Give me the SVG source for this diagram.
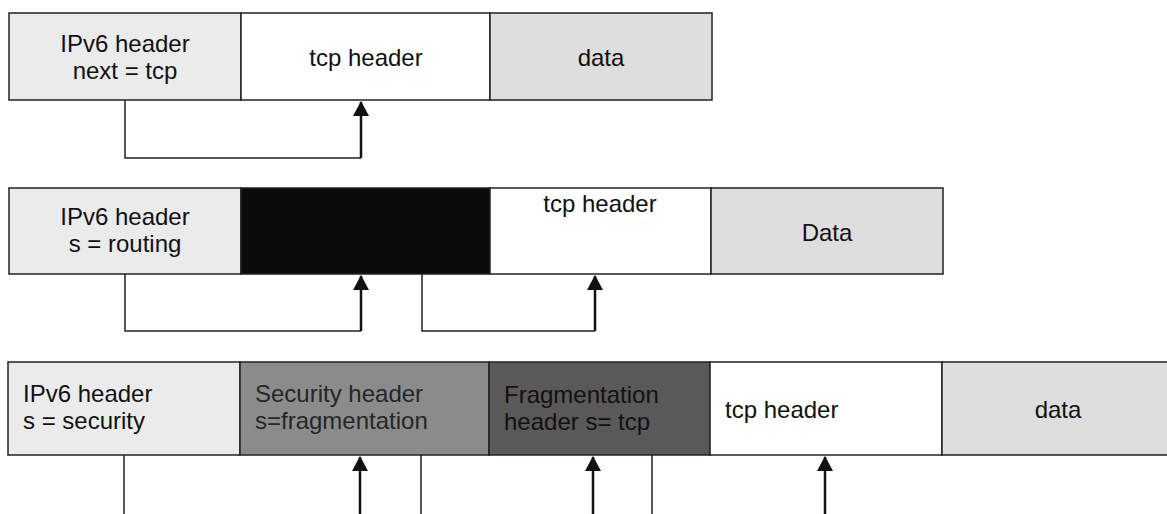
<svg xmlns="http://www.w3.org/2000/svg" width="1167" height="514" viewBox="0 0 1167 514">
  <style>
    .cell { stroke: #222; stroke-width: 1.5; }
    .ipv6 { fill: #ebebeb; }
    .tcp { fill: #ffffff; }
    .data { fill: #dedede; }
    .routing { fill: #0b0b0b; }
    .sec { fill: #8c8b8c; }
    .frag { fill: #5a5859; }
    .t { font-family: "Liberation Sans", Arial, sans-serif; font-size: 24px; fill: #111; }
    .c { text-anchor: middle; }
    .dim { fill: #262626; }
    .link { fill: none; stroke: #222; stroke-width: 1.5; }
    .head { stroke: #111; stroke-width: 2.5; fill: none; }
  </style>
  <defs>
    <!-- filled triangle pointing along the line direction, tip on the line end -->
    <marker id="arrow" viewBox="0 0 15 16" refX="14" refY="8" markerWidth="15" markerHeight="16" markerUnits="userSpaceOnUse" orient="auto">
      <path d="M0,0 L15,8 L0,16 Z" fill="#111"/>
    </marker>
  </defs>
  <rect width="1167" height="514" fill="#ffffff"/>

  <!-- Packet 1 -->
  <g id="p1-ipv6"><rect class="cell ipv6" x="9" y="13" width="232" height="87"/>
    <text class="t c" x="125" y="52">IPv6 header</text><text class="t c" x="125" y="79">next = tcp</text></g>
  <g id="p1-tcp"><rect class="cell tcp" x="241" y="13" width="249" height="87"/>
    <text class="t c" x="366" y="66">tcp header</text></g>
  <g id="p1-data"><rect class="cell data" x="490" y="13" width="222" height="87"/>
    <text class="t c" x="601" y="66">data</text></g>

  <!-- Packet 2 -->
  <g id="p2-ipv6"><rect class="cell ipv6" x="9" y="188" width="232" height="86"/>
    <text class="t c" x="125" y="225">IPv6 header</text><text class="t c" x="125" y="252">s = routing</text></g>
  <g id="p2-routing"><rect class="cell routing" x="241" y="188" width="249" height="86"/></g>
  <g id="p2-tcp"><rect class="cell tcp" x="490" y="188" width="221" height="86"/>
    <text class="t c" x="600" y="212">tcp header</text></g>
  <g id="p2-data"><rect class="cell data" x="711" y="188" width="232" height="86"/>
    <text class="t c" x="827" y="241">Data</text></g>

  <!-- Packet 3 -->
  <g id="p3-ipv6"><rect class="cell ipv6" x="8" y="362" width="232" height="93"/>
    <text class="t" x="23" y="402">IPv6 header</text><text class="t" x="23" y="429">s = security</text></g>
  <g id="p3-security"><rect class="cell sec" x="240" y="362" width="249" height="93"/>
    <text class="t dim" x="255" y="402">Security header</text><text class="t dim" x="255" y="429">s=fragmentation</text></g>
  <g id="p3-fragmentation"><rect class="cell frag" x="489" y="362" width="221" height="93"/>
    <text class="t" x="504" y="403">Fragmentation</text><text class="t" x="504" y="430">header s= tcp</text></g>
  <g id="p3-tcp"><rect class="cell tcp" x="710" y="362" width="232" height="93"/>
    <text class="t" x="725" y="418">tcp header</text></g>
  <g id="p3-data"><rect class="cell data" x="942" y="362" width="240" height="93"/>
    <text class="t c" x="1058" y="418">data</text></g>

  <!-- Next-header pointers -->
  <g id="connectors">
    <polyline class="link" points="125,100 125,158 361,158"/>
    <line class="head" x1="361" y1="158" x2="361" y2="102" marker-end="url(#arrow)"/>

    <polyline class="link" points="125,274 125,331 361,331"/>
    <line class="head" x1="361" y1="331" x2="361" y2="276" marker-end="url(#arrow)"/>
    <polyline class="link" points="422,274 422,331 595,331"/>
    <line class="head" x1="595" y1="331" x2="595" y2="276" marker-end="url(#arrow)"/>

    <line class="link" x1="124" y1="455" x2="124" y2="514"/>
    <line class="head" x1="360" y1="514" x2="360" y2="457" marker-end="url(#arrow)"/>
    <line class="link" x1="421" y1="455" x2="421" y2="514"/>
    <line class="head" x1="593" y1="514" x2="593" y2="457" marker-end="url(#arrow)"/>
    <line class="link" x1="652" y1="455" x2="652" y2="514"/>
    <line class="head" x1="825" y1="514" x2="825" y2="457" marker-end="url(#arrow)"/>
  </g>
</svg>
